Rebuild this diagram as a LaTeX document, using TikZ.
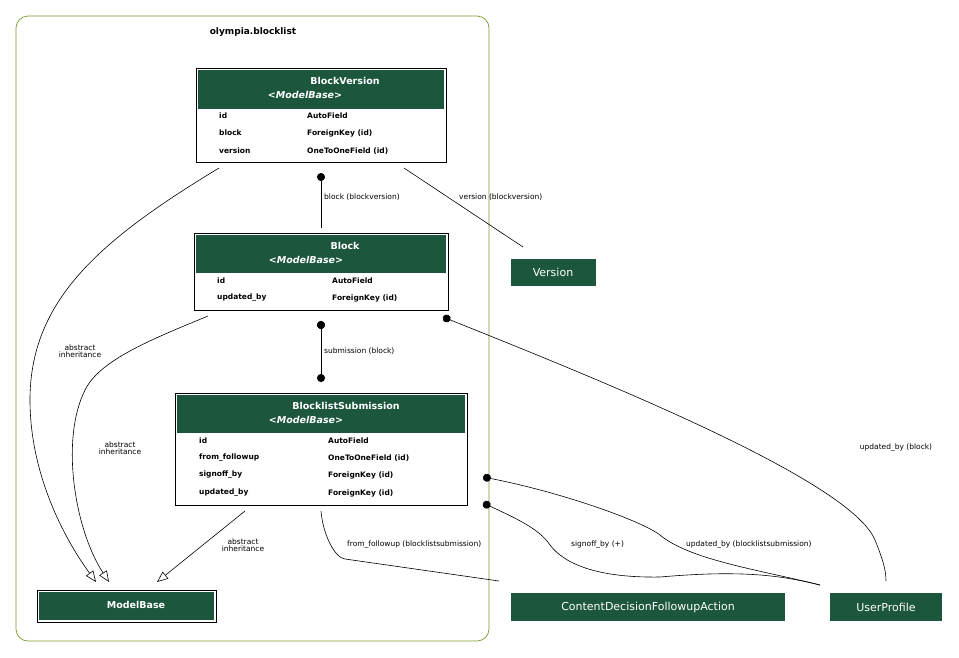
\documentclass[tikz,border=0pt]{standalone}
\usepackage{fontspec}
\setmainfont{DejaVu Sans}
\usetikzlibrary{arrows.meta}
\definecolor{hdr}{HTML}{1B563D}
\definecolor{olive}{HTML}{7A9A30}
\begin{document}
\begin{tikzpicture}[x=1pt,y=-1pt,
  tbl/.style={draw=black,line width=0.8pt,fill=white},
  hd/.style={fill=hdr},
  ttl/.style={text=white,font=\bfseries\fontsize{9.5}{10}\selectfont,inner sep=0},
  stt/.style={text=white,font=\bfseries\itshape\fontsize{9.5}{10}\selectfont,inner sep=0},
  fld/.style={anchor=west,font=\bfseries\fontsize{7.5}{8}\selectfont,inner sep=0},
  ext/.style={fill=hdr,draw=white,text=white,font=\fontsize{11}{12}\selectfont,inner sep=0},
  lbl/.style={font=\fontsize{7.5}{8}\selectfont,inner sep=0,align=center},
  e/.style={line width=0.6pt},
  dot/.style={{Circle[length=8pt]}-},
  inh/.style={-{Triangle[open,length=11pt,width=9pt]}}]
\useasboundingbox (0,0) rectangle (959,657);
\draw[olive,rounded corners=12pt,line width=0.7pt] (16,16) rectangle (489,641);
\node[font=\bfseries\fontsize{9}{10}\selectfont] (cl) at (253,32) {olympia.blocklist};
% BlockVersion
\node[tbl,minimum width=250pt,minimum height=94pt,inner sep=0] (bv) at (321,115) {};
\fill[hdr] (198,70) rectangle (444,109);
\node[ttl] (bvt) at (345,81) {BlockVersion};
\node[stt] (bvs) at (305,95) {<ModelBase>};
\node[fld] (bv1) at (219,116) {id}; \node[fld] (bv1t) at (307,116) {AutoField};
\node[fld] (bv2) at (219,133) {block}; \node[fld] (bv2t) at (307,133) {ForeignKey (id)};
\node[fld] (bv3) at (219,151) {version}; \node[fld] (bv3t) at (307,151) {OneToOneField (id)};
% Block
\node[tbl,minimum width=254pt,minimum height=77pt,inner sep=0] (b) at (321,271.5) {};
\fill[hdr] (196,235) rectangle (446,273);
\node[ttl] (bt) at (345,246) {Block};
\node[stt] (bs) at (306,260) {<ModelBase>};
\node[fld] (b1) at (217,281) {id}; \node[fld] (b1t) at (332,281) {AutoField};
\node[fld] (b2) at (217,298) {updated\_by}; \node[fld] (b2t) at (332,298) {ForeignKey (id)};
% BlocklistSubmission
\node[tbl,minimum width=292pt,minimum height=112pt,inner sep=0] (s) at (321,449) {};
\fill[hdr] (177,395) rectangle (465,433);
\node[ttl] (st) at (346,406) {BlocklistSubmission};
\node[stt] (ss) at (306,420) {<ModelBase>};
\node[fld] (s1) at (199,441) {id}; \node[fld] (s1t) at (328,441) {AutoField};
\node[fld] (s2) at (199,458) {from\_followup}; \node[fld] (s2t) at (328,458) {OneToOneField (id)};
\node[fld] (s3) at (199,475) {signoff\_by}; \node[fld] (s3t) at (328,475) {ForeignKey (id)};
\node[fld] (s4) at (199,493) {updated\_by}; \node[fld] (s4t) at (328,493) {ForeignKey (id)};
% ModelBase
\node[tbl,minimum width=179pt,minimum height=32pt,inner sep=0] (mb) at (126.5,606) {};
\fill[hdr] (39,592) rectangle (214,620);
\node[ttl] (mbt) at (136,605) {ModelBase};
% externals
\node[ext,minimum width=86pt,minimum height=28pt] (v) at (553,272.5) {Version};
\node[ext,minimum width=275pt,minimum height=29pt] (cd) at (648,607) {ContentDecisionFollowupAction};
\node[ext,minimum width=113pt,minimum height=29pt] (up) at (886,607) {UserProfile};
% coordinates
\coordinate (p1) at (321,173); \coordinate (p2) at (321,228);
\coordinate (p3) at (404,168); \coordinate (p4) at (523,247);
\coordinate (p5) at (219,168); \coordinate (p6) at (96,582);
\coordinate (p7) at (208,316); \coordinate (p8) at (109,582);
\coordinate (p9) at (321,321); \coordinate (p10) at (321,382);
\coordinate (p11) at (443,317); \coordinate (p12) at (886,581);
\coordinate (p13) at (245,511); \coordinate (p14) at (157,582);
\coordinate (p15) at (321,511); \coordinate (p16) at (499,581);
\coordinate (p17) at (483,477); \coordinate (p18) at (820,585);
\coordinate (p19) at (483,503);
% edges
\draw[e,dot] (p1) -- (p2);
\node[lbl,anchor=west] (l1) at (324,197) {block (blockversion)};
\draw[e] (p3) -- (p4);
\node[lbl,anchor=west] (l2) at (459,197) {version (blockversion)};
\draw[e,inh] (p5) .. controls (100,240) and (30,300) .. (30,400) .. controls (30,490) and (80,560) .. (p6);
\node[lbl] (l3) at (80,351) {abstract\\[-1pt]inheritance};
\draw[e,inh] (p7) .. controls (150,340) and (100,360) .. (85,390) .. controls (60,440) and (75,530) .. (p8);
\node[lbl] (l4) at (120,448) {abstract\\[-1pt]inheritance};
\draw[e,dot] (p9) -- (p10);
\draw[e,{Circle[length=8pt]}-{Circle[length=8pt]}] (p9) -- (p10);
\node[lbl,anchor=west] (l5) at (324,351) {submission (block)};
\draw[e,dot] (p11) .. controls (600,380) and (850,480) .. (875,540) .. controls (883,560) and (886,570) .. (p12);
\node[lbl] (l6) at (896,448) {updated\_by (block)};
\draw[e,inh] (p13) -- (p14);
\node[lbl] (l7) at (243,545) {abstract\\[-1pt]inheritance};
\draw[e] (p15) .. controls (323,535) and (335,558) .. (345,559) -- (p16);
\node[lbl,anchor=west] (l8) at (347,545) {from\_followup (blocklistsubmission)};
\draw[e,dot] (p17) .. controls (560,492) and (640,520) .. (660,535) .. controls (690,560) and (760,570) .. (p18);
\node[lbl,anchor=west] (l9) at (686,545) {updated\_by (blocklistsubmission)};
\draw[e,dot] (p19) .. controls (520,520) and (540,530) .. (550,545) .. controls (565,565) and (600,578) .. (660,577) .. controls (740,570) and (780,575) .. (p18);
\node[lbl,anchor=west] (l10) at (571,545) {signoff\_by (+)};
\end{tikzpicture}
\end{document}
